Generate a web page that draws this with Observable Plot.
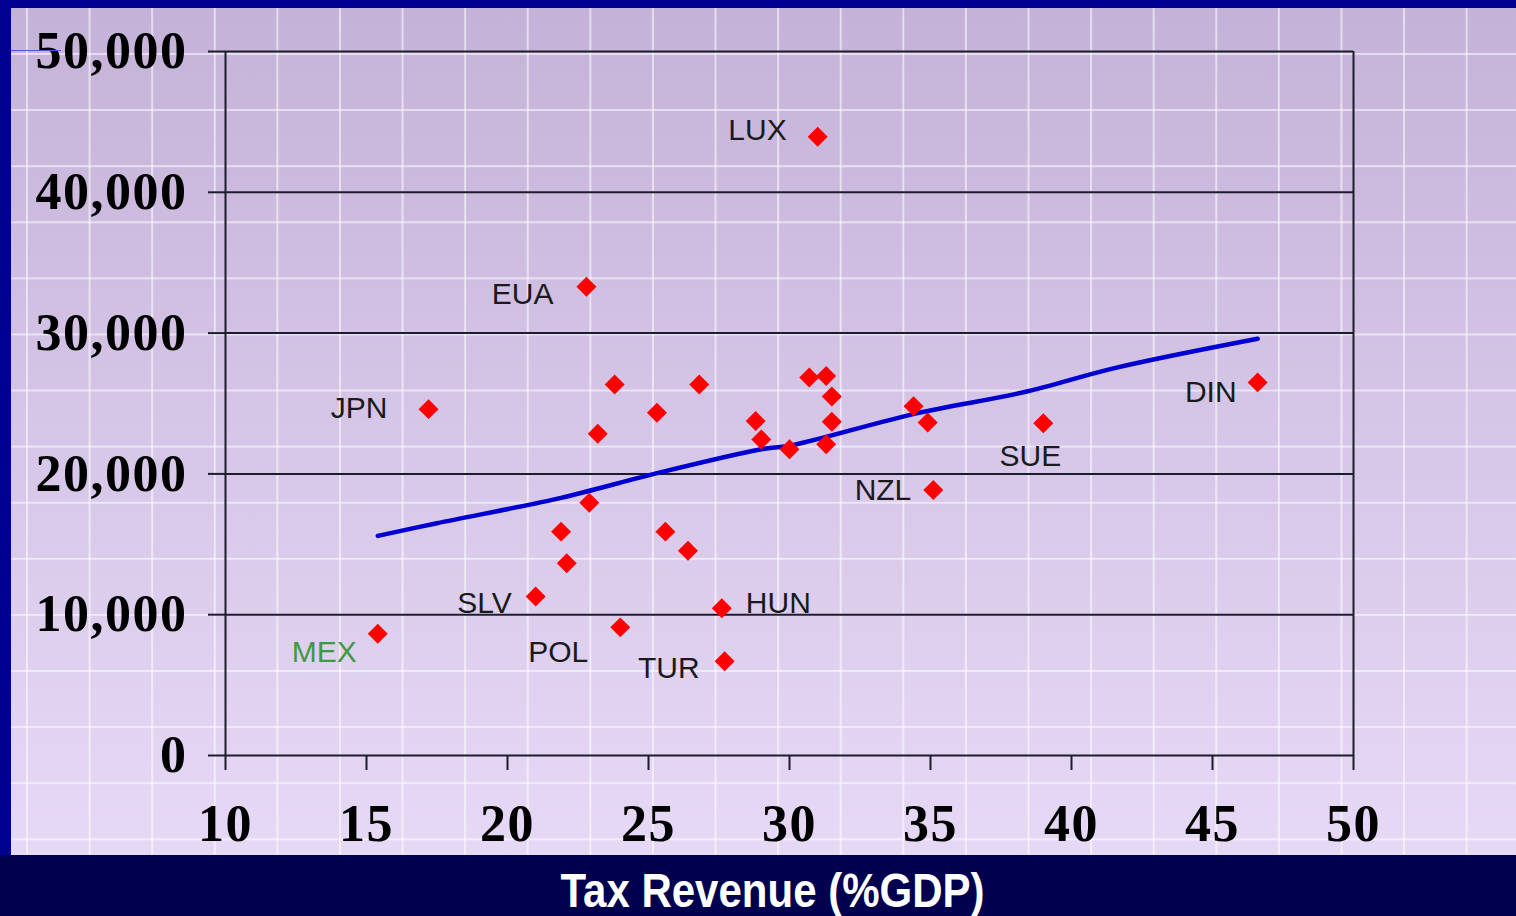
<!DOCTYPE html>
<html>
<head>
<meta charset="utf-8">
<script src="https://cdn.jsdelivr.net/npm/d3@7"></script>
<script src="https://cdn.jsdelivr.net/npm/@observablehq/plot@0.6"></script>
<style>
  html, body { margin: 0; padding: 0; }
  body { width: 1516px; height: 916px; background: #000090; position: relative; overflow: hidden; }
  #panel {
    position: absolute; left: 11px; top: 8px; width: 1505px; height: 847px;
    background:
      linear-gradient(to right, rgba(255,255,255,0.55) 2px, transparent 2px) 15px 0 / 62.6px 100% repeat-x,
      linear-gradient(to bottom, rgba(255,255,255,0.55) 2px, transparent 2px) 0 45px / 100% 56.1px repeat-y,
      linear-gradient(to bottom, #c5b2d8, #e6d9f6);
  }
  #bottom { position: absolute; left: 0; top: 855px; width: 1516px; height: 61px; background: #00004e; }
  #title {
    position: absolute; left: 0; width: 1545px; top: 863px; text-align: center;
    font-family: Arial, "Liberation Sans", sans-serif; font-weight: bold; font-size: 42px;
    color: #ffffff; transform: scaleY(1.15); transform-origin: 50% 0;
  }
  #blip { position: absolute; left: 11px; top: 50px; width: 50px; height: 1px; background: #4a5ae0; }
  .ax text { letter-spacing: 1.5px; }
</style>
</head>
<body>
<div id="panel"></div>
<div id="blip"></div>
<div id="bottom"></div>
<div id="title">Tax Revenue (%GDP)</div>
<script>
// ---- data ----
const countries   = ["LUX","EUA","JPN","DIN","SUE","NZL","HUN","TUR","POL","SLV","MEX",
                     "","","","","","","","","","","","","","","","","","",""];
const taxRevenue  = [31.0, 22.8, 17.2, 46.6, 39.0, 35.1, 27.6, 27.7, 24.0, 21.0, 15.4,
                     23.8, 26.8, 25.3, 23.2, 28.8, 29.0, 30.0, 30.7, 31.3, 31.5, 31.5, 31.3,
                     34.4, 34.9, 22.9, 21.9, 22.1, 25.6, 26.4];
const gdpPerCapita = [43950, 33300, 24600, 26500, 23600, 18850, 10450, 6700, 9100, 11300, 8650,
                     26350, 26350, 24350, 22850, 23750, 22450, 21750, 26850, 26950, 25500, 23700, 22100,
                     24800, 23650, 17950, 15900, 13650, 15900, 14550];
const trendX = [15.4, 17.5, 21.9, 25.1, 29.0, 30.0, 34.5, 38.3, 41.6, 46.6];
const trendY = [15600, 16500, 18300, 19950, 21750, 22000, 24300, 25800, 27550, 29600];
const xTicks = [10, 15, 20, 25, 30, 35, 40, 45, 50];
const yTicks = [0, 10000, 20000, 30000, 40000, 50000];

// ---- derived tables ----
const points = countries.map((c, i) => ({name: c, x: taxRevenue[i], y: gdpPerCapita[i]}));
const trend = trendX.map((x, i) => ({x, y: trendY[i]}));

// label placement (style, not data)
const labelStyle = {
  LUX: {anchor: "end", dx: -31, dy: -6},
  EUA: {anchor: "end", dx: -33, dy: 8},
  JPN: {anchor: "end", dx: -41, dy: -1},
  DIN: {anchor: "end", dx: -21, dy: 10},
  SUE: {anchor: "middle", dx: -13, dy: 33},
  NZL: {anchor: "end", dx: -22, dy: 0},
  HUN: {anchor: "start", dx: 24, dy: -5},
  TUR: {anchor: "end", dx: -25, dy: 7},
  POL: {anchor: "end", dx: -32, dy: 25},
  SLV: {anchor: "end", dx: -24, dy: 7},
  MEX: {anchor: "end", dx: -21, dy: 19, fill: "#3e9a3e"}
};

const labelMarks = points.filter(d => d.name).map(d => {
  const s = labelStyle[d.name];
  return Plot.text([d], {
    x: "x", y: "y", text: "name", textAnchor: s.anchor, dx: s.dx, dy: s.dy,
    fill: s.fill || "#1a1a1a", fontSize: 30, fontFamily: "Arial, 'Liberation Sans', sans-serif"
  });
});

const chart = Plot.plot({
  width: 1505,
  height: 847,
  marginLeft: 214,
  marginRight: 163,
  marginTop: 43,
  marginBottom: 100,
  style: {background: "transparent", overflow: "visible"},
  x: {domain: [10, 50], ticks: xTicks},
  y: {domain: [0, 50000], ticks: yTicks},
  marks: [
    Plot.ruleY(yTicks, {stroke: "#1c1c2c", strokeWidth: 2}),
    Plot.ruleX([xTicks[0], xTicks[xTicks.length - 1]], {stroke: "#1c1c2c", strokeWidth: 2}),
    Plot.axisY({
      ticks: yTicks, tickSize: 17, tickPadding: 21, stroke: "#1c1c2c", strokeWidth: 2,
      fontSize: 52, fontFamily: "'Liberation Serif', 'Times New Roman', serif", fontWeight: "bold",
      fill: "#000", label: null, tickFormat: d3.format(","), className: "ax"
    }),
    Plot.axisX({
      ticks: xTicks, tickSize: 15, tickPadding: 34, stroke: "#1c1c2c", strokeWidth: 2,
      fontSize: 52, fontFamily: "'Liberation Serif', 'Times New Roman', serif", fontWeight: "bold",
      fill: "#000", label: null, className: "ax"
    }),
    Plot.line(trend, {x: "x", y: "y", stroke: "#0000d0", strokeWidth: 4.5, curve: "catmull-rom"}),
    Plot.dot(points, {x: "x", y: "y", symbol: "diamond2", r: 9, fill: "#ff0000", stroke: "none"}),
    ...labelMarks
  ]
});
chart.style.position = "absolute";
chart.style.left = "0px";
chart.style.top = "0px";
chart.querySelectorAll("text").forEach(t => {
  if (t.closest("[aria-label='y-axis tick label'], [aria-label='x-axis tick label']")) t.style.letterSpacing = "1.5px";
});
document.getElementById("panel").appendChild(chart);
</script>
</body>
</html>
